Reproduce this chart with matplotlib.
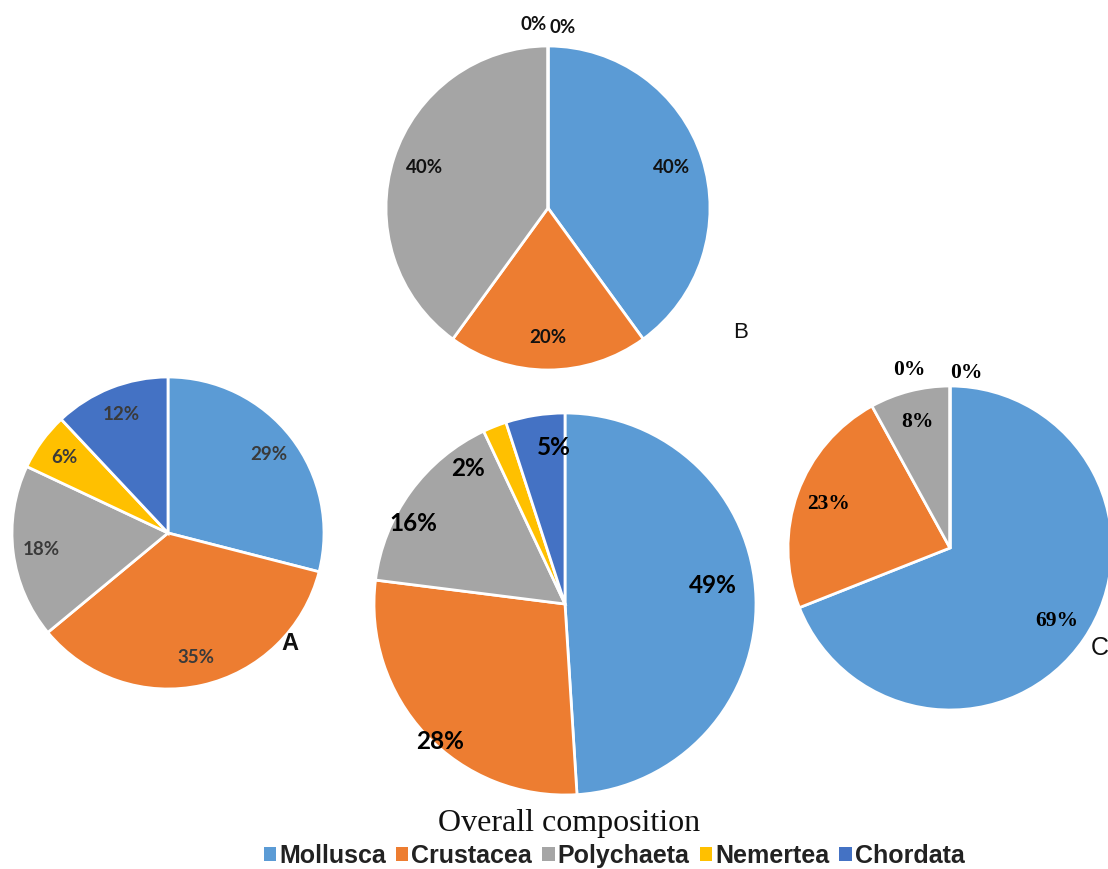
import matplotlib
matplotlib.use("Agg")
import matplotlib.pyplot as plt
from matplotlib.patches import Patch
import numpy as np

# ---------------- data ----------------
categories = ["Mollusca", "Crustacea", "Polychaeta", "Nemertea", "Chordata"]
values_A = [29, 35, 18, 6, 12]
values_B = [40, 20, 40, 0, 0]
values_C = [69, 23, 8, 0, 0]
values_overall = [49, 28, 16, 2, 5]
title_overall = "Overall composition"
colors = ["#5B9BD5", "#ED7D31", "#A5A5A5", "#FFC000", "#4472C4"]

W, H = 1108, 869
fig = plt.figure(figsize=(W / 100, H / 100), dpi=100)
fig.patch.set_facecolor("white")


def make_ax(cx, cy, r):
    ax = fig.add_axes([(cx - r) / W, 1 - (cy + r) / H, 2 * r / W, 2 * r / H])
    return ax


def draw_pie(ax, values, font, size, color, weight="bold", pctdist=0.8,
             zero_dist=1.12, zero_gap=(4, 4), nudges=None):
    wedges, _ = ax.pie(values, colors=colors, startangle=90, counterclock=False,
                       wedgeprops=dict(edgecolor="white", linewidth=2))
    ax.set_xlim(-1, 1)
    ax.set_ylim(-1, 1)
    ax.set_aspect("equal")
    ax.axis("off")
    nudges = nudges or {}
    zero_i = 0
    for i, (w, v) in enumerate(zip(wedges, values)):
        mid = np.deg2rad((w.theta1 + w.theta2) / 2)
        txt = f"{v}%"
        if v == 0:
            x, y = zero_dist * np.cos(mid), zero_dist * np.sin(mid)
            ha = "right" if zero_i == 0 else "left"
            dx = -zero_gap[0] if zero_i == 0 else zero_gap[1]
            dy = 0 if zero_i == 0 else -2
            ax.annotate(txt, (x, y), xytext=(dx, dy), textcoords="offset points",
                        ha=ha, va="center", fontsize=size, family=font,
                        weight=weight, color=color, annotation_clip=False)
            zero_i += 1
        else:
            d = pctdist
            ang = mid
            if i in nudges:
                d, dang = nudges[i]
                ang = mid + np.deg2rad(dang)
            x, y = d * np.cos(ang), d * np.sin(ang)
            ax.text(x, y, txt, ha="center", va="center", fontsize=size,
                    family=font, weight=weight, color=color)


# Pie B (top)
axB = make_ax(548, 208, 162)
draw_pie(axB, values_B, "Lato", 13.5, "#111111", zero_dist=1.13, zero_gap=(1, 1))

# Pie A (left)
axA = make_ax(168, 533, 156)
draw_pie(axA, values_A, "Lato", 13.5, "#3a3a3a", pctdist=0.82)

# Overall (center)
axO = make_ax(565, 604, 191)
draw_pie(axO, values_overall, "Lato", 17.5, "#000000", pctdist=0.8,
         nudges={0: (0.78, 5.5), 1: (0.97, 4.5), 2: (0.9, 8), 3: (0.87, 14),
                 4: (0.82, -5)})

# Pie C (right)
axC = make_ax(950, 548, 162)
draw_pie(axC, values_C, "Liberation Serif", 15.5, "#000000", pctdist=0.8,
         zero_dist=1.1, zero_gap=(18, 0))

# Panel letters
fig.text(290 / W, 1 - 643 / H, "A", ha="center", va="center", fontsize=17,
         family="Liberation Sans", weight="bold", color="#111111")
fig.text(741 / W, 1 - 333 / H, "B", ha="center", va="center", fontsize=16,
         family="Liberation Sans", color="#111111")
fig.text(1091 / W, 1 - 648 / H, "C", ha="left", va="center", fontsize=18,
         family="Liberation Sans", color="#111111")

# Title of overall pie
fig.text(569 / W, 1 - 823 / H, title_overall, ha="center", va="center",
         fontsize=23, family="Liberation Serif", color="#111111")

# Legend
handles = [Patch(facecolor=c, edgecolor="none") for c in colors]
fig.legend(handles, categories, loc="center", bbox_to_anchor=(614 / W, 1 - 856 / H),
           ncol=5, frameon=False, handlelength=0.5, handleheight=0.5,
           handletextpad=0.12, columnspacing=0.4,
           prop=dict(family="Liberation Sans", weight="bold", size=18),
           labelcolor="#222222", borderaxespad=0, borderpad=0)

fig.savefig("out.png", dpi=100, facecolor="white")
